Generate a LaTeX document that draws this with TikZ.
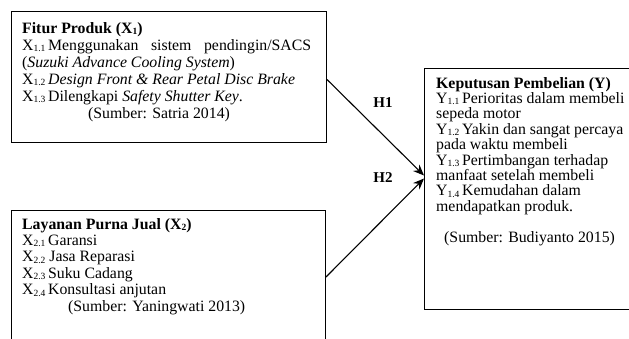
\documentclass[tikz,border=0pt]{standalone}
\usepackage{fontspec}
\setmainfont{Liberation Serif}
\usetikzlibrary{arrows.meta,calc}
\newcommand\lowsub[1]{\raisebox{-1.3pt}{\fontsize{9.5}{10}\selectfont #1}}
\newcommand\fixlines{\lineskiplimit=-100pt\relax}
\tikzset{
  boxrect/.style={draw, line width=1pt, inner sep=0pt, anchor=north west},
  boxtext/.style={anchor=north west, inner sep=0pt, align=left},
  link/.style={line width=1.1pt, -{Stealth[length=11pt,width=9pt]}},
  hlabel/.style={font=\fontsize{15}{17}\selectfont\bfseries, inner sep=0pt}
}
\begin{document}
\begin{tikzpicture}[x=1pt,y=-1pt]
\useasboundingbox (0,0) rectangle (629,338);
% boxes
\node[boxrect, minimum width=315pt, minimum height=131pt] (b1) at (11,11) {};
\node[boxrect, minimum width=314pt, minimum height=140pt] (b2) at (11,210) {};
\node[boxrect, minimum width=220pt, minimum height=241pt] (b3) at (424,68) {};
% texts
\node[boxtext, font={\fontsize{15.8}{17}\selectfont\fixlines}] (t1) at (22,22) {%
\textbf{Fitur Produk (X\lowsub{1})}\\
\makebox[289pt][s]{X\lowsub{1.1}\,Menggunakan sistem pendingin/SACS}\\
(\textit{Suzuki Advance Cooling System})\\
X\lowsub{1.2}\,\textit{Design Front \& Rear Petal Disc Brake}\\
X\lowsub{1.3}\,Dilengkapi \textit{Safety Shutter Key}.\\
\hspace*{66pt}(Sumber: Satria 2014)};
\node[boxtext, font={\fontsize{15.8}{16.4}\selectfont\fixlines}] (t2) at (22,218) {%
\textbf{Layanan Purna Jual (X\lowsub{2})}\\
X\lowsub{2.1}\,Garansi\\
X\lowsub{2.2}\ Jasa Reparasi\\
X\lowsub{2.3}\,Suku Cadang\\
X\lowsub{2.4}\,Konsultasi anjutan\\
\hspace*{46pt}(Sumber: Yaningwati 2013)};
\node[boxtext, font={\fontsize{15.8}{15.4}\selectfont\fixlines}] (t3) at (436,77) {%
\textbf{Keputusan Pembelian (Y)}\\
Y\lowsub{1.1}\,Perioritas dalam membeli\\
sepeda motor\\
Y\lowsub{1.2}\,Yakin dan sangat percaya\\
pada waktu membeli\\
Y\lowsub{1.3}\,Pertimbangan terhadap\\
manfaat setelah membeli\\
Y\lowsub{1.4}\,Kemudahan dalam\\
mendapatkan produk.\\[15.4pt]
\hspace*{8pt}(Sumber: Budiyanto 2015)};
% connectors
\draw[link] ([yshift=-2.5pt]b1.east) -- ([yshift=13.5pt]b3.west);
\draw[link] ([yshift=3.5pt]b2.east) -- ([yshift=10.5pt]b3.west);
\node[hlabel] (h1) at (383,103) {H1};
\node[hlabel] (h2) at (383,178) {H2};
\end{tikzpicture}
\end{document}
